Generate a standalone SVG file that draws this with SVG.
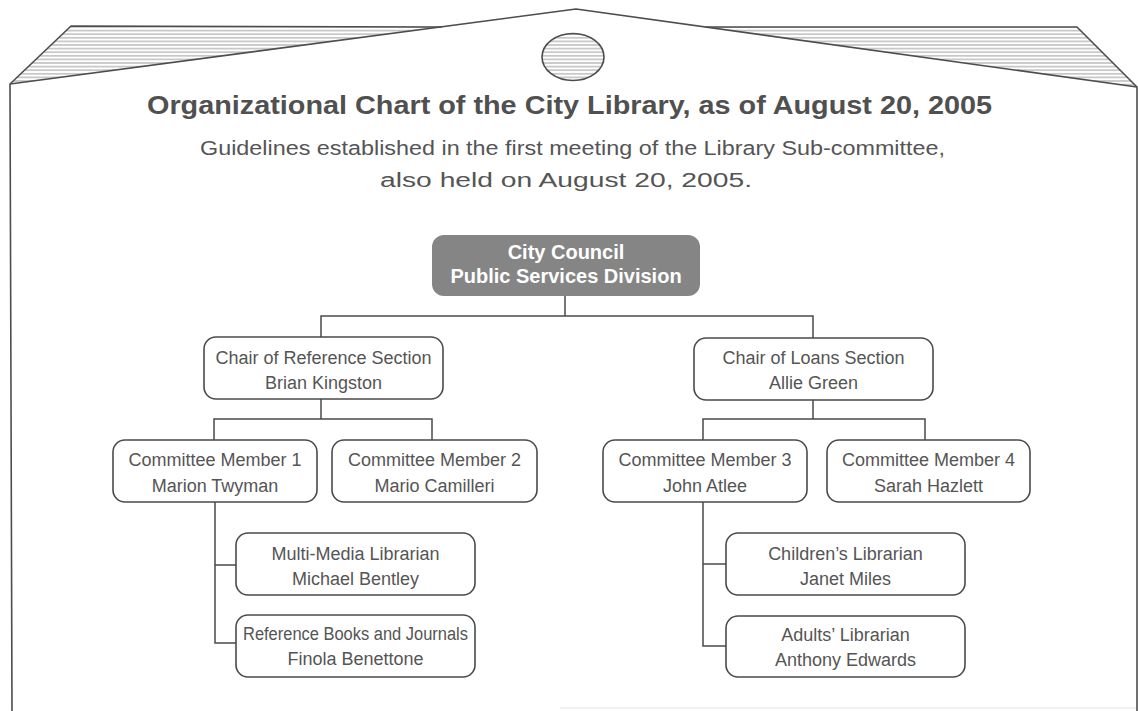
<svg xmlns="http://www.w3.org/2000/svg" width="1138" height="711" viewBox="0 0 1138 711">
  <defs>
    <pattern id="hatch" patternUnits="userSpaceOnUse" width="12" height="3.6">
      <line x1="0" y1="1.8" x2="12" y2="1.8" stroke="#8c8c8c" stroke-width="0.9"/>
    </pattern>
    <style>
      .env { fill: none; stroke: #4d4d4d; stroke-width: 1.6; stroke-linejoin: round; }
      .box { fill: #ffffff; stroke: #4a4a4a; stroke-width: 1.6; }
      .head { fill: #858585; stroke: none; }
      .lbl { font-family: "Liberation Sans", Arial, sans-serif; font-size: 18px; fill: #555555; text-anchor: middle; }
      .hl { font-family: "Liberation Sans", Arial, sans-serif; font-size: 20px; font-weight: bold; fill: #ffffff; text-anchor: middle; }
      .title { font-family: "Liberation Sans", Arial, sans-serif; font-size: 25px; font-weight: bold; fill: #505050; }
      .sub { font-family: "Liberation Sans", Arial, sans-serif; font-size: 20px; fill: #555555; }
      .wire { fill: none; stroke: #4a4a4a; stroke-width: 1.5; }
    </style>
  </defs>

  <rect width="1138" height="711" fill="#ffffff"/>

  <!-- envelope outline with hatched flaps and seal -->
  <g id="envelope">
    <polygon points="10,84 71,26 442,27" fill="url(#hatch)"/>
    <polygon points="706,27 1077,27 1137,87" fill="url(#hatch)"/>
    <path class="env" d="M12,711 L10,84 L71,26 L442,27"/>
    <path class="env" d="M10,84 L576,9 L1137,87"/>
    <path class="env" d="M706,27 L1077,27 L1137,87 L1137,711"/>
    <ellipse cx="573" cy="57" rx="31" ry="23.5" fill="url(#hatch)" stroke="#4d4d4d" stroke-width="1.6"/>
    <line x1="560" y1="708" x2="1136" y2="708" stroke="#e2e2e2" stroke-width="1"/>
  </g>

  <!-- heading -->
  <g id="heading">
    <text class="title" x="147" y="114" textLength="845" lengthAdjust="spacingAndGlyphs">Organizational Chart of the City Library, as of August 20, 2005</text>
    <text class="sub" x="200" y="155" textLength="745" lengthAdjust="spacingAndGlyphs">Guidelines established in the first meeting of the Library Sub-committee,</text>
    <text class="sub" x="380" y="187" textLength="372" lengthAdjust="spacingAndGlyphs">also held on August 20, 2005.</text>
  </g>

  <!-- connectors -->
  <g id="connectors" class="wire">
    <path d="M565,296 V316"/>
    <path d="M321,337 V316 H813 V338"/>
    <path d="M321,399 V419"/>
    <path d="M214,440 V419 H432 V440"/>
    <path d="M813,400 V419"/>
    <path d="M703,440 V419 H925 V440"/>
    <path d="M215,502 V643 H236"/>
    <path d="M215,565 H236"/>
    <path d="M703,502 V646 H726"/>
    <path d="M703,564 H726"/>
  </g>

  <g id="council">
    <rect class="head" x="432" y="235" width="268" height="61" rx="12"/>
    <text class="hl" x="566" y="259">City Council</text>
    <text class="hl" x="566" y="283">Public Services Division</text>
  </g>

  <g id="chair-reference">
    <rect class="box" x="204" y="337" width="239" height="62" rx="12"/>
    <text class="lbl" x="323.5" y="364">Chair of Reference Section</text>
    <text class="lbl" x="323.5" y="389">Brian Kingston</text>
  </g>

  <g id="chair-loans">
    <rect class="box" x="694" y="338" width="239" height="62" rx="12"/>
    <text class="lbl" x="813.5" y="364">Chair of Loans Section</text>
    <text class="lbl" x="813.5" y="389">Allie Green</text>
  </g>

  <g id="member-1">
    <rect class="box" x="113" y="440" width="204" height="62" rx="12"/>
    <text class="lbl" x="215" y="466">Committee Member 1</text>
    <text class="lbl" x="215" y="492">Marion Twyman</text>
  </g>

  <g id="member-2">
    <rect class="box" x="332" y="440" width="205" height="62" rx="12"/>
    <text class="lbl" x="434.5" y="466">Committee Member 2</text>
    <text class="lbl" x="434.5" y="492">Mario Camilleri</text>
  </g>

  <g id="member-3">
    <rect class="box" x="603" y="440" width="204" height="62" rx="12"/>
    <text class="lbl" x="705" y="466">Committee Member 3</text>
    <text class="lbl" x="705" y="492">John Atlee</text>
  </g>

  <g id="member-4">
    <rect class="box" x="827" y="440" width="203" height="62" rx="12"/>
    <text class="lbl" x="928.5" y="466">Committee Member 4</text>
    <text class="lbl" x="928.5" y="492">Sarah Hazlett</text>
  </g>

  <g id="multimedia">
    <rect class="box" x="236" y="533" width="239" height="62" rx="12"/>
    <text class="lbl" x="355.5" y="560">Multi-Media Librarian</text>
    <text class="lbl" x="355.5" y="585">Michael Bentley</text>
  </g>

  <g id="reference-books">
    <rect class="box" x="236" y="615" width="239" height="62" rx="12"/>
    <text class="lbl" x="355.5" y="640" textLength="225" lengthAdjust="spacingAndGlyphs">Reference Books and Journals</text>
    <text class="lbl" x="355.5" y="665">Finola Benettone</text>
  </g>

  <g id="childrens">
    <rect class="box" x="726" y="533" width="239" height="62" rx="12"/>
    <text class="lbl" x="845.5" y="560">Children’s Librarian</text>
    <text class="lbl" x="845.5" y="585">Janet Miles</text>
  </g>

  <g id="adults">
    <rect class="box" x="726" y="616" width="239" height="61" rx="12"/>
    <text class="lbl" x="845.5" y="641">Adults’ Librarian</text>
    <text class="lbl" x="845.5" y="666">Anthony Edwards</text>
  </g>
</svg>
